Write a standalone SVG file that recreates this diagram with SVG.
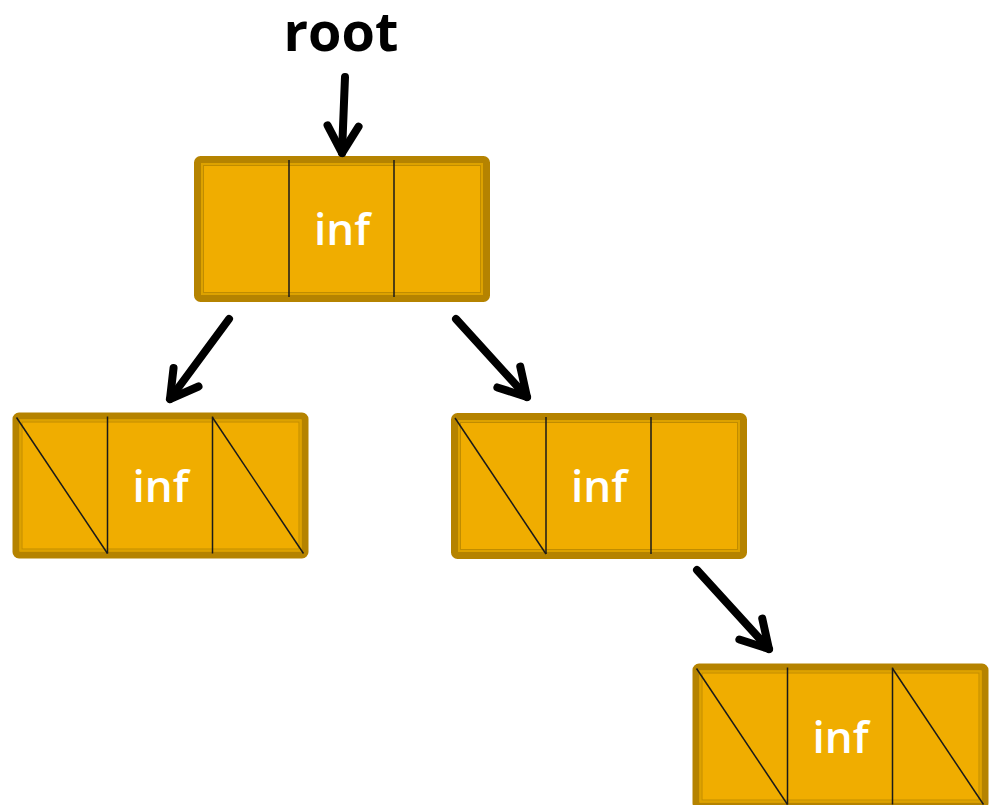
<svg xmlns="http://www.w3.org/2000/svg" width="989" height="805" viewBox="0 0 989 805">
<style>
.outer{fill:#F0AD00;stroke:#B58300;stroke-width:7}
.band{fill:none;stroke:#DDA200;stroke-width:2}
.thin{fill:none;stroke:#C08C00;stroke-width:1}
.div{stroke:#1a1a1a;stroke-width:1.5}
.lbl{font-family:"Open Sans","Noto Sans",sans-serif;font-weight:600;font-size:44px;fill:#FFFFFF;text-anchor:middle}
.root{font-family:"Open Sans","Noto Sans",sans-serif;font-weight:700;font-size:54px;fill:#000000;text-anchor:middle}
.conn{fill:none;stroke:#000;stroke-width:8;stroke-linecap:round}
</style>
<defs>
<marker id="ah" markerUnits="userSpaceOnUse" viewBox="-34 -22 40 44" refX="0" refY="0" markerWidth="40" markerHeight="44" orient="auto">
<path d="M-27,-15.5 L0,0 L-27,15.5" fill="none" stroke="#000" stroke-width="8" stroke-linecap="round" stroke-linejoin="round"/>
</marker>
</defs>
<rect width="989" height="805" fill="#FFFFFF"/>
<text class="root" x="341" y="51">root</text>
<g id="node-root" transform="translate(194,156)">
<rect class="outer" x="3.5" y="3.5" width="289" height="139" rx="3"/>
<rect class="band" x="8" y="8" width="280" height="130"/>
<rect class="thin" x="9.5" y="9.5" width="277" height="127"/>
<line class="div" x1="95" y1="4" x2="95" y2="141"/>
<line class="div" x1="200" y1="4" x2="200" y2="141"/>
<text class="lbl" x="148" y="89">inf</text>
</g>
<g id="node-left" transform="translate(12.5,412.5)">
<rect class="outer" x="3.5" y="3.5" width="289" height="139" rx="3"/>
<rect class="band" x="8" y="8" width="280" height="130"/>
<rect class="thin" x="9.5" y="9.5" width="277" height="127"/>
<line class="div" x1="95" y1="4" x2="95" y2="141"/>
<line class="div" x1="200" y1="4" x2="200" y2="141"/>
<line class="div" x1="4" y1="5" x2="95" y2="141"/>
<line class="div" x1="200" y1="5" x2="291" y2="141"/>
<text class="lbl" x="148" y="89">inf</text>
</g>
<g id="node-right" transform="translate(451,413)">
<rect class="outer" x="3.5" y="3.5" width="289" height="139" rx="3"/>
<rect class="band" x="8" y="8" width="280" height="130"/>
<rect class="thin" x="9.5" y="9.5" width="277" height="127"/>
<line class="div" x1="95" y1="4" x2="95" y2="141"/>
<line class="div" x1="200" y1="4" x2="200" y2="141"/>
<line class="div" x1="4" y1="5" x2="95" y2="141"/>
<text class="lbl" x="148" y="89">inf</text>
</g>
<g id="node-rr" transform="translate(692.5,663.5)">
<rect class="outer" x="3.5" y="3.5" width="289" height="139" rx="3"/>
<rect class="band" x="8" y="8" width="280" height="130"/>
<rect class="thin" x="9.5" y="9.5" width="277" height="127"/>
<line class="div" x1="95" y1="4" x2="95" y2="141"/>
<line class="div" x1="200" y1="4" x2="200" y2="141"/>
<line class="div" x1="4" y1="5" x2="95" y2="141"/>
<line class="div" x1="200" y1="5" x2="291" y2="141"/>
<text class="lbl" x="148" y="89">inf</text>
</g>
<g id="connectors">
<line class="conn" x1="345" y1="77" x2="342" y2="153" marker-end="url(#ah)"/>
<line class="conn" x1="229" y1="319" x2="170" y2="399" marker-end="url(#ah)"/>
<line class="conn" x1="456" y1="319" x2="527" y2="397" marker-end="url(#ah)"/>
<line class="conn" x1="697" y1="570" x2="769" y2="649" marker-end="url(#ah)"/>
</g>
</svg>
